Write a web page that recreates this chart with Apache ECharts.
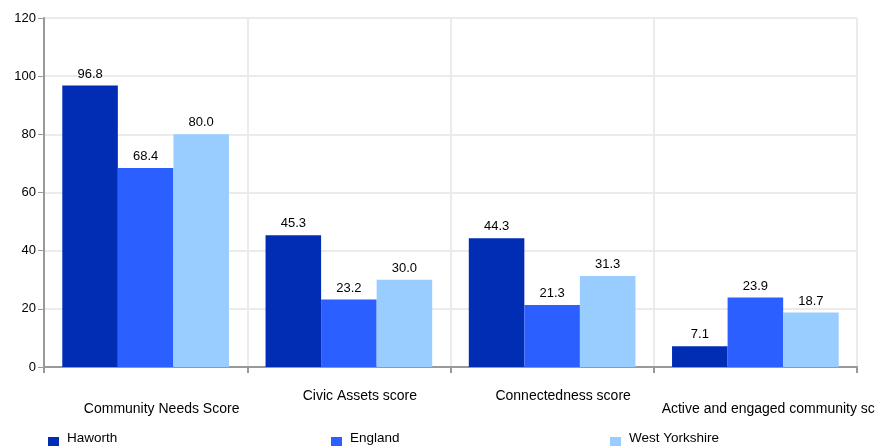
<!DOCTYPE html>
<html>
<head>
<meta charset="utf-8">
<script src="https://cdn.jsdelivr.net/npm/echarts@6/dist/echarts.min.js"></script>
<style>
  html, body { margin: 0; padding: 0; background: #fff; }
  #main { width: 875px; height: 446px; }
</style>
</head>
<body>
<div id="main"></div>
<script>
// data
var categories = ['Community Needs Score', 'Civic Assets score', 'Connectedness score', 'Active and engaged community score']
var haworth = [96.8, 45.3, 44.3, 7.1]
var england = [68.4, 23.2, 21.3, 23.9]
var westYorkshire = [80.0, 30.0, 31.3, 18.7]
var seriesNames = ['Haworth', 'England', 'West Yorkshire']
var colors = ['#002db3', '#2b5fff', '#99ccff']

var chart = echarts.init(document.getElementById('main'))

// labels in the picture sit at two heights, alternating
var labelPads = [[13, 0, 0, 32], [0, 0, 0, 22], [0, 0, 0, 22], [13, 0, 0, 46]]
var catData = categories.map(function (c, i) {
  return { value: c, textStyle: { padding: labelPads[i] } }
})

function bar(name, values, color) {
  return {
    name: name,
    type: 'bar',
    barGap: 0,
    barCategoryGap: '18%',
    itemStyle: { color: color },
    label: {
      show: true,
      position: 'top',
      distance: 5,
      color: '#000',
      fontSize: 13,
      formatter: function (p) { return p.value.toFixed(1) }
    },
    data: values
  }
}

var legendBase = {
  top: 431,
  padding: 0,
  itemWidth: 11,
  itemHeight: 11,
  icon: 'rect',
  formatter: '{t|{name}}',
  textStyle: {
    color: '#000',
    fontSize: 13,
    rich: { t: { fontSize: 13.5, color: '#000', padding: [0, 0, 9, 3] } }
  }
}

chart.setOption({
  animation: false,
  textStyle: { fontFamily: 'Liberation Sans, Arial, sans-serif' },
  grid: { left: 44, right: 18, top: 18, bottom: 79, outerBoundsMode: 'none', containLabel: false },
  legend: [
    Object.assign({ left: 48, data: [seriesNames[0]] }, legendBase),
    Object.assign({ left: 331, data: [seriesNames[1]] }, legendBase),
    Object.assign({ left: 610, data: [seriesNames[2]] }, legendBase)
  ],
  xAxis: {
    type: 'category',
    data: catData,
    axisLine: { lineStyle: { color: '#999', width: 2 } },
    axisTick: { show: true, length: 6, lineStyle: { color: '#999', width: 2 } },
    axisLabel: { color: '#000', fontSize: 14, margin: 22, interval: 0, hideOverlap: false },
    splitLine: { show: true, lineStyle: { color: '#ebebeb', width: 2 } }
  },
  yAxis: {
    type: 'value',
    min: 0,
    max: 120,
    interval: 20,
    axisLine: { show: true, lineStyle: { color: '#999', width: 2 } },
    axisTick: { show: true, length: 6, lineStyle: { color: '#999', width: 1 } },
    axisLabel: { color: '#000', fontSize: 13, margin: 8 },
    splitLine: { lineStyle: { color: '#ebebeb', width: 2 } }
  },
  series: [
    bar(seriesNames[0], haworth, colors[0]),
    bar(seriesNames[1], england, colors[1]),
    bar(seriesNames[2], westYorkshire, colors[2])
  ]
})
</script>
</body>
</html>
